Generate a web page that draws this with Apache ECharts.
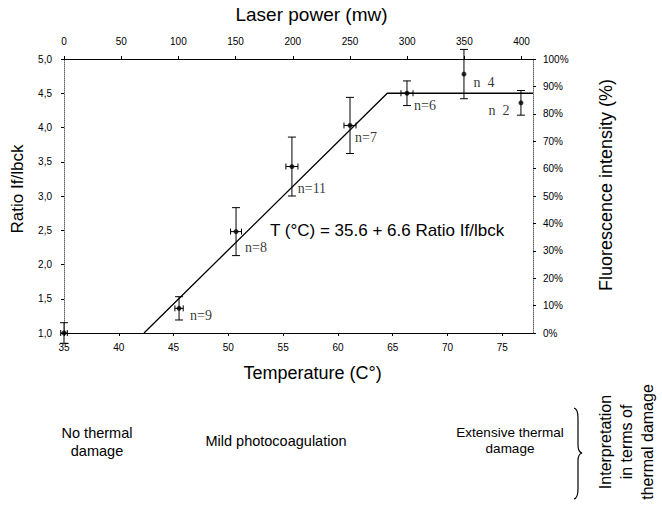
<!DOCTYPE html>
<html>
<head>
<meta charset="utf-8">
<script src="https://cdn.jsdelivr.net/npm/echarts@6/dist/echarts.min.js"></script>
<style>
  html, body { margin: 0; padding: 0; background: #fff; }
  #chart { width: 662px; height: 512px; }
</style>
</head>
<body>
<div id="chart"></div>
<script>
// temperature (C°) of each measurement, matches laser power ticks
const temps = [35, 45.5, 50.7, 55.8, 61.1, 66.3, 71.5, 76.7]
const ratios = [1.0, 1.36, 2.48, 3.43, 4.03, 4.5, 4.78, 4.36]
const ratioErr = [0.15, 0.17, 0.35, 0.43, 0.41, 0.18, 0.36, 0.18]
const tempErr = [0.3, 0.38, 0.5, 0.55, 0.55, 0.55, 0, 0]
const nLabels = ['', 'n=9', 'n=8', 'n=11', 'n=7', 'n=6', 'n  4', 'n  2']
// fit line T = 35.6 + 6.6 ratio, then plateau
const fitT = [42.3, 64.5, 77.8]
const fitR = [1.0, 4.5, 4.5]

// label offsets (px) for the n= labels
const labelOffsets = [[0, 0], [22, 7], [20, 16], [20, 22], [16, 12], [18, 12], [20, 8], [-22, 8]]

const chart = echarts.init(document.getElementById('chart'), null, { renderer: 'svg' })

const tickFont = { color: '#000', fontSize: 10, fontFamily: 'Liberation Sans, Arial' }
const nameFont = { color: '#000', fontSize: 17, fontFamily: 'Liberation Sans, Arial' }

const scatterData = temps.map((t, i) => ({
  value: [t, ratios[i]],
  label: {
    show: nLabels[i] !== '',
    formatter: nLabels[i],
    position: 'inside',
    offset: labelOffsets[i],
    color: '#000',
    textBorderWidth: 0,
    fontSize: 14,
    fontFamily: 'Liberation Serif, Times New Roman'
  }
}))

const errData = temps.map((t, i) => [t, ratios[i], ratioErr[i], tempErr[i]])

function renderErr(params, api) {
  const t = api.value(0), r = api.value(1), er = api.value(2), et = api.value(3)
  const top = api.coord([t, r + er])
  const bot = api.coord([t, r - er])
  const mid = api.coord([t, r])
  const style = { stroke: '#000', lineWidth: 1 }
  const children = [
    { type: 'line', shape: { x1: top[0], y1: top[1], x2: bot[0], y2: bot[1] }, style },
    { type: 'line', shape: { x1: top[0] - 4, y1: top[1], x2: top[0] + 4, y2: top[1] }, style },
    { type: 'line', shape: { x1: bot[0] - 4, y1: bot[1], x2: bot[0] + 4, y2: bot[1] }, style }
  ]
  if (et > 0) {
    const l = api.coord([t - et, r])
    const rr = api.coord([t + et, r])
    children.push(
      { type: 'line', shape: { x1: l[0], y1: mid[1], x2: rr[0], y2: mid[1] }, style },
      { type: 'line', shape: { x1: l[0], y1: mid[1] - 3, x2: l[0], y2: mid[1] + 3 }, style },
      { type: 'line', shape: { x1: rr[0], y1: mid[1] - 3, x2: rr[0], y2: mid[1] + 3 }, style }
    )
  }
  return { type: 'group', children }
}

const braceStyle = { stroke: '#000', lineWidth: 1.2, fill: null }

chart.setOption({
  backgroundColor: '#fff',
  animation: false,
  grid: { left: 64, right: 129, top: 58, height: 275 },
  xAxis: [
    {
      type: 'value', position: 'bottom', min: 35, max: 77.8, interval: 5,
      name: 'Temperature (C°)', nameLocation: 'middle', nameGap: 31,
      nameTextStyle: { ...nameFont, fontSize: 18, padding: [0, 0, 0, 28] },
      axisLine: { onZero: false, lineStyle: { color: '#000', width: 1.2 } },
      axisTick: { length: 3, lineStyle: { color: '#000' } },
      axisLabel: { ...tickFont, showMaxLabel: false, margin: 9 },
      splitLine: { show: false }
    },
    {
      type: 'value', position: 'top', min: 0, max: 410, interval: 50,
      name: 'Laser power (mw)', nameLocation: 'middle', nameGap: 35,
      nameTextStyle: { ...nameFont, fontSize: 19, padding: [0, 0, 0, 26] },
      axisLine: { onZero: false, lineStyle: { color: '#000', width: 1.2 } },
      axisTick: { length: 3, lineStyle: { color: '#000' } },
      axisLabel: { ...tickFont, showMaxLabel: false, margin: 13 },
      splitLine: { show: false }
    }
  ],
  yAxis: [
    {
      type: 'value', position: 'left', min: 1, max: 5, interval: 0.5,
      name: 'Ratio If/lbck', nameLocation: 'middle', nameGap: 38, nameRotate: 90,
      nameTextStyle: { ...nameFont, padding: [0, 0, 0, 14] },
      axisLine: { show: true, onZero: false, lineStyle: { color: '#666', type: 'dotted' } },
      axisTick: { show: true, length: 3, lineStyle: { color: '#000' } },
      axisLabel: { ...tickFont, margin: 12, formatter: v => v.toFixed(1).replace('.', ',') },
      splitLine: { show: false }
    },
    {
      type: 'value', position: 'right', min: 0, max: 100, interval: 10,
      name: 'Fluorescence intensity (%)', nameLocation: 'middle', nameGap: 64, nameRotate: 90,
      nameTextStyle: { ...nameFont, fontSize: 18, padding: [0, 0, 0, 22] },
      axisLine: { show: true, onZero: false, lineStyle: { color: '#666', type: 'dotted' } },
      axisTick: { show: true, length: 3, lineStyle: { color: '#000' } },
      axisLabel: { ...tickFont, margin: 10, formatter: '{value}%' },
      splitLine: { show: false }
    }
  ],
  series: [
    {
      type: 'line',
      data: fitT.map((t, i) => [t, fitR[i]]),
      symbol: 'none',
      lineStyle: { color: '#000', width: 1.3 },
      silent: true,
      z: 2
    },
    {
      type: 'custom',
      data: errData,
      renderItem: renderErr,
      z: 3
    },
    {
      type: 'scatter',
      data: scatterData,
      symbol: 'circle',
      symbolSize: 5,
      itemStyle: { color: '#000' },
      z: 4
    }
  ],
  graphic: [
    {
      type: 'text', x: 270, y: 230,
      style: { text: 'T (°C) = 35.6 + 6.6 Ratio If/lbck', fill: '#000', font: '17px "Liberation Sans", Arial', verticalAlign: 'middle' }
    },
    {
      type: 'text', x: 97, y: 442,
      style: { text: 'No thermal\ndamage', fill: '#000', font: '14.5px "Liberation Sans", Arial', align: 'center', verticalAlign: 'middle', lineHeight: 18 }
    },
    {
      type: 'text', x: 276, y: 441,
      style: { text: 'Mild photocoagulation', fill: '#000', font: '14.5px "Liberation Sans", Arial', align: 'center', verticalAlign: 'middle' }
    },
    {
      type: 'text', x: 510, y: 440,
      style: { text: 'Extensive thermal\ndamage', fill: '#000', font: '13.5px "Liberation Sans", Arial', align: 'center', verticalAlign: 'middle', lineHeight: 16 }
    },
    // curly brace
    { type: 'bezierCurve', shape: { x1: 574, y1: 408, x2: 578, y2: 418, cpx1: 578, cpy1: 409 }, style: braceStyle },
    { type: 'line', shape: { x1: 578, y1: 418, x2: 578, y2: 445 }, style: braceStyle },
    { type: 'bezierCurve', shape: { x1: 578, y1: 445, x2: 582, y2: 453, cpx1: 578, cpy1: 452 }, style: braceStyle },
    { type: 'bezierCurve', shape: { x1: 582, y1: 453, x2: 578, y2: 461, cpx1: 578, cpy1: 454 }, style: braceStyle },
    { type: 'line', shape: { x1: 578, y1: 461, x2: 578, y2: 489 }, style: braceStyle },
    { type: 'bezierCurve', shape: { x1: 578, y1: 489, x2: 574, y2: 499, cpx1: 578, cpy1: 498 }, style: braceStyle },
    {
      type: 'text', x: 626, y: 442, rotation: Math.PI / 2,
      style: { text: 'Interpretation\nin terms of\nthermal damage', fill: '#000', font: '16px "Liberation Sans", Arial', align: 'center', verticalAlign: 'middle', lineHeight: 21 }
    }
  ]
})
</script>
</body>
</html>
